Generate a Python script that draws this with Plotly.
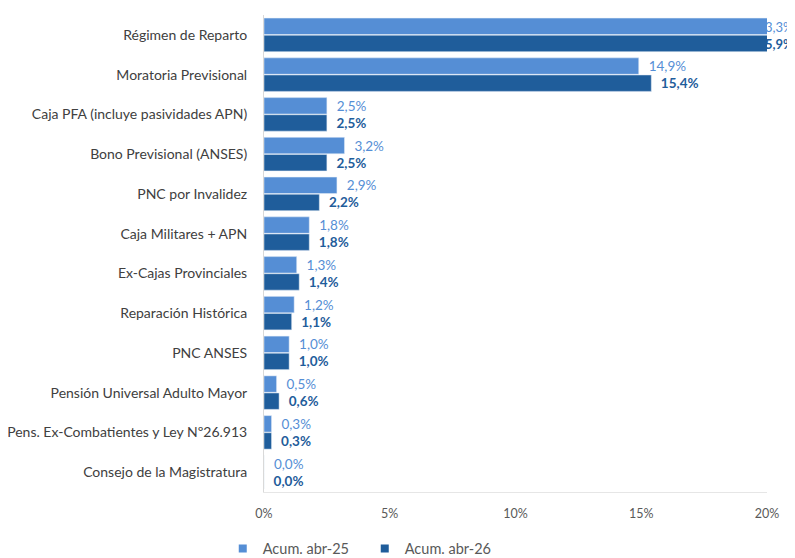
import plotly.graph_objects as go

categories = ["Régimen de Reparto", "Moratoria Previsional", "Caja PFA (incluye pasividades APN)",
              "Bono Previsional (ANSES)", "PNC por Invalidez", "Caja Militares + APN",
              "Ex-Cajas Provinciales", "Reparación Histórica", "PNC ANSES",
              "Pensión Universal Adulto Mayor", "Pens. Ex-Combatientes y Ley Nº26.913",
              "Consejo de la Magistratura"]
abr25 = [63.3, 14.9, 2.5, 3.2, 2.9, 1.8, 1.3, 1.2, 1.0, 0.5, 0.3, 0.0]
abr26 = [65.9, 15.4, 2.5, 2.5, 2.2, 1.8, 1.4, 1.1, 1.0, 0.6, 0.3, 0.0]
series_names = ["Acum. abr-25", "Acum. abr-26"]
xticks = [0, 5, 10, 15, 20]
xmax = 20

c25 = "#558ED5"
c26 = "#1F5D9B"
FONT = "Lato"

def lab(v):
    return ("%.1f%%" % v).replace(".", ",")

def texts(vals):
    return ["" if v > xmax else "\u00a0\u00a0" + lab(v) for v in vals]

fig = go.Figure()
fig.add_trace(go.Bar(y=categories, x=abr25, orientation="h", name=series_names[0],
                     marker_color=c25, text=texts(abr25), textposition="outside",
                     textfont=dict(color=c25, size=13.5, family=FONT), cliponaxis=False,
                     showlegend=False))
fig.add_trace(go.Bar(y=categories, x=abr26, orientation="h", name=series_names[1],
                     marker_color=c26, text=texts(abr26), textposition="outside",
                     textfont=dict(color=c26, size=13.5, family=FONT),
                     texttemplate="<b>%{text}</b>", cliponaxis=False, showlegend=False))
# legend entries with small square markers
for nm, col in zip(series_names, [c25, c26]):
    fig.add_trace(go.Scatter(x=[None], y=[None], mode="markers", name=nm,
                             marker=dict(symbol="square", size=8, color=col)))

# labels of bars that run past the axis end (partly hidden, as in the original)
for i, (v, col, bold) in enumerate([(abr25[0], c25, False), (abr26[0], c26, True)]):
    t = lab(v)[1:]
    fig.add_annotation(x=1.0, xref="paper", y=categories[0], yref="y",
                       yshift=8 if i == 0 else -9, text=("<b>%s</b>" % t) if bold else t,
                       showarrow=False, xanchor="left", xshift=-4,
                       font=dict(color=col, size=13, family=FONT))

# the page body adds an 8px offset; the figure is sized to fit the window
fig.update_layout(
    width=787, height=550,
    margin=dict(l=256, r=28, t=7, b=66, autoexpand=False),
    paper_bgcolor="white", plot_bgcolor="white",
    barmode="group", bargap=0.14, bargroupgap=0.04,
    font=dict(family=FONT, color="#404040"),
    legend=dict(orientation="h", x=-0.082, xanchor="left", y=-0.085, yanchor="top",
                entrywidth=97, entrywidthmode="pixels",
                font=dict(size=14.5, color="#595959", family=FONT),
                itemwidth=30, traceorder="normal"),
    showlegend=True,
)
fig.update_xaxes(range=[0, xmax], tickvals=xticks, ticktext=[f"{t}%" for t in xticks],
                 showgrid=False, zeroline=False, showline=True, linecolor="#e6e6e6",
                 ticks="outside", ticklen=10, tickcolor="rgba(0,0,0,0)", automargin=False,
                 tickfont=dict(size=12.5, color="#595959", family=FONT), fixedrange=True)
fig.update_yaxes(autorange="reversed", showgrid=False, showline=True, linecolor="#d9d9d9",
                 ticks="outside", ticklen=13, tickcolor="rgba(0,0,0,0)", automargin=False,
                 tickfont=dict(size=14, color="#404040", family=FONT))

fig.write_html("out.html")
